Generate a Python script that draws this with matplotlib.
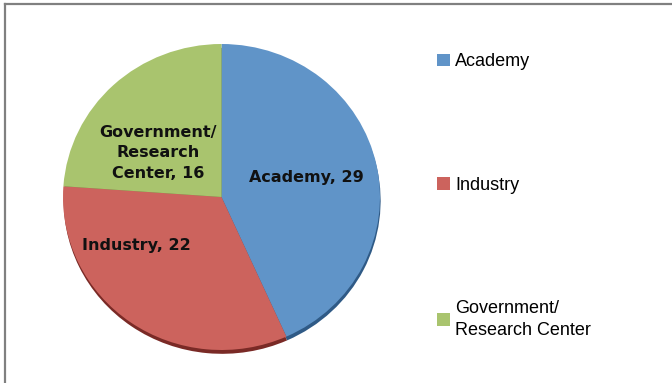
import matplotlib
matplotlib.use('Agg')
import matplotlib.pyplot as plt
from matplotlib.lines import Line2D

# ---------------------------------------------------------------- #

categories = ['Academy', 'Industry', 'Government/\nResearch Center']
label_names = ['Academy', 'Industry', 'Government/\nResearch\nCenter']
counts = [29, 22, 16]

colors = ['#6094c8', '#cc635d', '#a9c46e']
shadow_colors = ['#2f5a86', '#7a2a26', '#6a7f3a']

# label positions inside the pie (fraction of radius), Excel "best fit"-like
label_pos = [(0.535, 0.125), (-0.535, -0.32), (-0.40, 0.29)]

# ---------------------------------------------------------------- #

fig = plt.figure(figsize=(6.72, 3.83), dpi=100)
W, H = 672, 383

# pie box in pixels: x 63..380, y 44..350 (from top)
ax = fig.add_axes([63 / W, 1 - 350 / H, 317 / W, 306 / H])

# shadow under the pie
ax.pie(counts, colors=shadow_colors, startangle=90, counterclock=False,
       center=(0.004, -0.025), wedgeprops=dict(linewidth=0))

wedges, texts = ax.pie(
    counts,
    colors=colors,
    startangle=90,
    counterclock=False,
    labels=[f'{n}, {c}' for n, c in zip(label_names, counts)],
    labeldistance=0.5,
    wedgeprops=dict(linewidth=0),
    textprops=dict(fontsize=11.5, fontweight='bold', family='DejaVu Sans',
                   color='#111111'),
)

for t, pos in zip(texts, label_pos):
    t.set_position(pos)
    t.set_ha('center')
    t.set_va('center')
    t.set_multialignment('center')
    t.set_linespacing(1.45)

ax.set_aspect('auto')
ax.set_xlim(-1, 1)
ax.set_ylim(-1, 1)
ax.axis('off')

leg = fig.legend(
    wedges,
    categories,
    loc='upper left',
    bbox_to_anchor=(421 / W, 1 - 37 / H),
    frameon=False,
    prop=dict(family='Liberation Sans', size=13),
    handlelength=0.7,
    handleheight=0.7,
    handletextpad=0.3,
    labelspacing=5.9,
)
for t in leg.get_texts():
    t.set_linespacing(1.35)

# outer frame (top and left edges only)
fig.add_artist(Line2D([5 / W, 1], [1 - 4 / H, 1 - 4 / H], color='#808080',
                      linewidth=1.6, transform=fig.transFigure))
fig.add_artist(Line2D([5 / W, 5 / W], [0, 1 - 4 / H], color='#808080',
                      linewidth=1.6, transform=fig.transFigure))

fig.savefig('out.png', dpi=100)
